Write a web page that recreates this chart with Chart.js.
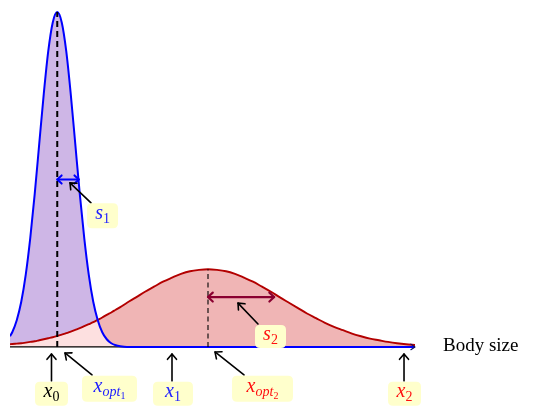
<!DOCTYPE html>
<html><head><meta charset="utf-8">
<script src="https://cdn.jsdelivr.net/npm/chart.js@4/dist/chart.umd.min.js"></script>
<style>html,body{margin:0;padding:0;background:#fff}canvas{display:block}</style>
</head><body>
<canvas id="c" width="542" height="417"></canvas>
<script>
// ---- data (body size axis, density values) ----
const xs = [0, 0.05, 0.15, 0.25, 0.35, 0.45, 0.55, 0.65, 0.75, 0.85, 0.95, 1.05, 1.15, 1.25, 1.35, 1.45, 1.55, 1.65, 1.75, 1.85, 1.95, 2.05, 2.15, 2.25, 2.35, 2.45,
  2.6, 2.8, 3.0, 3.2, 3.4, 3.6, 3.8, 4.0, 4.2, 4.4, 4.6, 4.8, 5.0, 5.2, 5.4, 5.6, 5.8, 6.0, 6.2, 6.4, 6.6, 6.8, 7.0, 7.2, 7.4, 7.6, 7.8, 8.0, 8.2, 8.4, 8.6, 8.8, 9.0];
const blueDensity = [0.032, 0.044, 0.080, 0.135, 0.216, 0.325, 0.458, 0.607, 0.755, 0.883, 0.969, 1.000, 0.969, 0.883, 0.755, 0.607, 0.458, 0.325, 0.216, 0.135, 0.080, 0.044, 0.023, 0.011, 0.005, 0.002,
  0, 0, 0, 0, 0, 0, 0, 0, 0, 0, 0, 0, 0, 0, 0, 0, 0, 0, 0, 0, 0, 0, 0, 0, 0, 0, 0, 0, 0, 0, 0, 0, 0];
const redDensity = [0.008, 0.009, 0.010, 0.011, 0.013, 0.015, 0.017, 0.020, 0.023, 0.026, 0.029, 0.033, 0.037, 0.041, 0.046, 0.051, 0.056, 0.062, 0.068, 0.074, 0.081, 0.088, 0.096, 0.103, 0.111, 0.119,
  0.132, 0.148, 0.165, 0.180, 0.195, 0.207, 0.218, 0.226, 0.230, 0.232, 0.230, 0.226, 0.218, 0.207, 0.195, 0.180, 0.165, 0.148, 0.132, 0.116, 0.100, 0.086, 0.072, 0.060, 0.050, 0.040, 0.032, 0.025, 0.020, 0.015, 0.011, 0.008, 0.006];

// optima / spreads (data units)
const opt1 = 1.05, peak1 = 1.0, spread1 = [1.05, 1.53, 0.50];
const opt2 = 4.4,  peak2 = 0.232, spread2 = [4.4, 5.87, 0.149];
const axisLabel = 'Body size';

// ---- annotations: labels (center in data units) and pointer arrows ----
const labels = [
  {parts:[['x',20,true,0],['0',14,false,4]], color:'#000', x:0.922, y:-0.140, w:33, h:24},
  {parts:[['x',20,true,0],['opt',14,true,4],['1',10,false,7]], color:'#2020ff', x:2.211, y:-0.125, w:55, h:26},
  {parts:[['x',20,true,0],['1',14,false,4]], color:'#2020ff', x:3.622, y:-0.140, w:40, h:24},
  {parts:[['x',20,true,0],['opt',14,true,4],['2',10,false,7]], color:'#ff1010', x:5.611, y:-0.125, w:61, h:26},
  {parts:[['x',20,true,0],['2',14,false,4]], color:'#ff1010', x:8.767, y:-0.140, w:33, h:24},
  {parts:[['s',20,true,0],['1',14,false,4]], color:'#2020ff', x:2.056, y:0.392, w:31, h:25},
  {parts:[['s',20,true,0],['2',14,false,4]], color:'#ff1010', x:5.789, y:0.031, w:31, h:23}
];
const pointers = [
  [0.922,-0.1015, 0.922,-0.021],
  [1.822,-0.0836, 1.222,-0.018],
  [3.600,-0.1015, 3.600,-0.021],
  [5.200,-0.0836, 4.556,-0.015],
  [8.756,-0.1015, 8.756,-0.021],
  [1.800, 0.430, 1.333, 0.490],
  [5.511, 0.0687, 5.067, 0.131]
];

function head(ctx, x1, y1, x2, y2, len, ang){
  const a = Math.atan2(y2-y1, x2-x1);
  ctx.beginPath();
  ctx.moveTo(x2 - len*Math.cos(a-ang), y2 - len*Math.sin(a-ang));
  ctx.lineTo(x2, y2);
  ctx.lineTo(x2 - len*Math.cos(a+ang), y2 - len*Math.sin(a+ang));
  ctx.stroke();
}
function arrow(ctx, x1, y1, x2, y2, len, ang, both){
  ctx.beginPath(); ctx.moveTo(x1,y1); ctx.lineTo(x2,y2); ctx.stroke();
  head(ctx, x1,y1,x2,y2,len,ang);
  if (both) head(ctx, x2,y2,x1,y1,len,ang);
}
function rrect(ctx, x, y, w, h, r){
  ctx.beginPath();
  ctx.moveTo(x+r,y); ctx.lineTo(x+w-r,y); ctx.quadraticCurveTo(x+w,y,x+w,y+r);
  ctx.lineTo(x+w,y+h-r); ctx.quadraticCurveTo(x+w,y+h,x+w-r,y+h);
  ctx.lineTo(x+r,y+h); ctx.quadraticCurveTo(x,y+h,x,y+h-r);
  ctx.lineTo(x,y+r); ctx.quadraticCurveTo(x,y,x+r,y); ctx.closePath();
}
function font(p){ return (p[2]?'italic ':'') + p[1] + 'px "Liberation Serif", "DejaVu Serif", serif'; }

const annot = {
  id: 'annot',
  beforeDatasetsDraw(chart){
    const {ctx, scales:{x, y}} = chart;
    ctx.save();
    ctx.strokeStyle = '#000'; ctx.lineWidth = 1.3;
    ctx.beginPath();
    ctx.moveTo(x.getPixelForValue(xs[0]), y.getPixelForValue(0));
    ctx.lineTo(x.getPixelForValue(xs[xs.length-1]), y.getPixelForValue(0));
    ctx.stroke();
    ctx.restore();
  },
  afterDatasetsDraw(chart){
    const {ctx, scales:{x, y}} = chart;
    const X = v => x.getPixelForValue(v), Y = v => y.getPixelForValue(v);
    ctx.save();
    ctx.lineCap = 'round'; ctx.lineJoin = 'round';
    // axis arrow tip
    ctx.strokeStyle = '#101060'; ctx.lineWidth = 1.1;
    head(ctx, X(8.9), Y(0), X(9.0), Y(0), 5, 0.6);
    // dashed optimum lines
    ctx.lineCap = 'butt';
    ctx.strokeStyle = '#000';
    ctx.lineWidth = 2; ctx.setLineDash([6,4]);
    ctx.beginPath(); ctx.moveTo(X(opt1), Y(0)); ctx.lineTo(X(opt1), Y(peak1)); ctx.stroke();
    ctx.lineWidth = 1.1; ctx.setLineDash([5,3.5]);
    ctx.beginPath(); ctx.moveTo(X(opt2), Y(0)); ctx.lineTo(X(opt2), Y(peak2)); ctx.stroke();
    ctx.setLineDash([]);
    ctx.lineCap = 'round';
    // spread arrows
    ctx.strokeStyle = '#0000ff'; ctx.lineWidth = 2;
    arrow(ctx, X(spread1[0]), Y(spread1[2]), X(spread1[1]), Y(spread1[2]), 6, 0.75, true);
    ctx.strokeStyle = '#8a0030'; ctx.lineWidth = 2.2;
    arrow(ctx, X(spread2[0]), Y(spread2[2]), X(spread2[1]), Y(spread2[2]), 6.5, 0.75, true);
    // pointer arrows
    ctx.strokeStyle = '#000'; ctx.lineWidth = 1.6;
    pointers.forEach(p => arrow(ctx, X(p[0]), Y(p[1]), X(p[2]), Y(p[3]), 7, 0.7, false));
    // labels
    labels.forEach(l => {
      const cx = X(l.x), cy = Y(l.y);
      ctx.fillStyle = '#ffffcc';
      rrect(ctx, cx - l.w/2, cy - l.h/2, l.w, l.h, 5); ctx.fill();
      let w = 0;
      l.parts.forEach(p => { ctx.font = font(p); w += ctx.measureText(p[0]).width; });
      let tx = cx - w/2;
      ctx.fillStyle = l.color; ctx.textBaseline = 'alphabetic'; ctx.textAlign = 'left';
      l.parts.forEach(p => { ctx.font = font(p); ctx.fillText(p[0], tx, cy + 3 + p[3]); tx += ctx.measureText(p[0]).width; });
    });
    // axis label
    ctx.fillStyle = '#000'; ctx.font = '19px "Liberation Serif", "DejaVu Serif", serif';
    ctx.textBaseline = 'middle'; ctx.textAlign = 'left';
    ctx.fillText(axisLabel, X(9.622), Y(0.003));
    ctx.restore();
  }
};

new Chart(document.getElementById('c'), {
  type: 'line',
  data: {
    datasets: [
      { label: 'red', data: xs.map((v,i) => ({x: v, y: redDensity[i]})), borderColor: '#b30000', borderWidth: 1.9,
        backgroundColor: '#fde0e0', fill: 'origin', pointRadius: 0, cubicInterpolationMode: 'monotone', order: 2 },
      { label: 'blue', data: xs.map((v,i) => ({x: v, y: blueDensity[i]})), borderColor: '#0000ff', borderWidth: 2,
        fill: {target: 0, above: '#ceb6e6', below: '#f0b5b5'}, pointRadius: 0, cubicInterpolationMode: 'monotone', order: 1 }
    ]
  },
  options: {
    responsive: false, animation: false, devicePixelRatio: 1,
    layout: {padding: {left: 10, right: 127, top: 2, bottom: 60}},
    scales: {
      x: {type: 'linear', min: 0, max: 9, display: false},
      y: {min: -0.03, max: 1.03, display: false}
    },
    plugins: {legend: {display: false}, tooltip: {enabled: false}, filler: {drawTime: 'beforeDatasetsDraw'}},
    elements: {line: {borderJoinStyle: 'round'}}
  },
  plugins: [annot]
});
</script>
</body></html>
